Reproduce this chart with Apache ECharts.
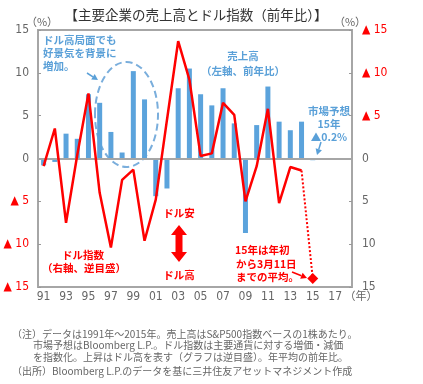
<!DOCTYPE html>
<html><head><meta charset="utf-8">
<script src="https://cdn.jsdelivr.net/npm/echarts@6/dist/echarts.min.js"></script>
<style>html,body{margin:0;padding:0;background:#fff}#c{width:423px;height:384px}</style>
</head><body><div id="c"></div>
<script>
const years = ['91','92','93','94','95','96','97','98','99','00','01','02','03','04','05','06','07','08','09','10','11','12','13','14','15','16','17','18'];
const sales = [-0.8,-0.4,2.9,2.3,7.5,6.5,3.1,0.7,10.2,6.9,-4.4,-3.5,8.2,10.5,7.5,6.2,8.2,4.1,-8.7,3.9,8.4,4.3,3.3,4.3,-0.2,null,null,null];
const dollar = [0.9,-3.5,7.5,-0.4,-7.6,4.0,10.4,2.5,1.3,9.6,4.8,-4.5,-13.7,-9.2,-0.3,-0.6,-6.5,-5.1,5.0,0.9,-5.8,5.2,1.0,1.4,null,null,null,null];
const dollar15 = 14.0;
const yTicks = [-15,-10,-5,0,5,10,15];

const FONT = '"Noto Sans CJK JP", "Noto Sans", sans-serif';
const NUMFONT = '"Liberation Sans Narrow", "DejaVu Sans Condensed", "Liberation Sans", sans-serif';
const BLUE = '#5aa0d8', RED = '#ff0000', GRAY = '#666';

const dotted = dollar.map(() => null);
dotted[23] = {value: dollar[23], symbol: 'none'};
dotted[24] = {value: dollar15, symbol: 'diamond', symbolSize: 11};

function lab(v){ return v < 0 ? '{r|▲ ' + (-v) + '}' : '{g|' + v + '}'; }
const rich = { r:{color:RED, fontSize:12, fontFamily:NUMFONT}, g:{color:GRAY, fontSize:12, fontFamily:NUMFONT} };

function arrow(x1,y1,x2,y2,color,lw,hs){
  const a = Math.atan2(y2-y1,x2-x1);
  const bx = x2 - hs*Math.cos(a), by = y2 - hs*Math.sin(a);
  const px = -Math.sin(a)*hs*0.55, py = Math.cos(a)*hs*0.55;
  return [
    {type:'line', shape:{x1:x1,y1:y1,x2:bx,y2:by}, style:{stroke:color,lineWidth:lw}},
    {type:'polygon', shape:{points:[[x2,y2],[bx+px,by+py],[bx-px,by-py]]}, style:{fill:color}}
  ];
}
function txt(x,y,t,o){ return {type:'text', x:x, y:y, style:Object.assign({text:t, fontFamily:FONT, fontSize:10, fill:GRAY, textVerticalAlign:'middle', verticalAlign:'middle'}, o||{})}; }

const chart = echarts.init(document.getElementById('c'), null, {renderer:'canvas'});
chart.setOption({
  animation:false,
  grid:{left:38, right:71, top:30, bottom:97, show:true, borderColor:'#a6a6a6', borderWidth:2, backgroundColor:'transparent'},
  xAxis:{type:'category', data:years, boundaryGap:true,
    axisLine:{show:false}, axisTick:{show:false},
    axisLabel:{interval:1, color:GRAY, fontSize:12, fontFamily:NUMFONT, margin:4}},
  yAxis:[
    {type:'value', min:-15, max:15, interval:5, position:'left', splitLine:{show:false},
      axisLine:{show:false}, axisTick:{show:true, inside:true, length:3, lineStyle:{color:'#999'}},
      axisLabel:{margin:9, formatter:lab, rich:rich}},
    {type:'value', min:-15, max:15, interval:5, inverse:true, position:'right', splitLine:{show:false},
      axisLine:{show:false}, axisTick:{show:true, inside:true, length:3, lineStyle:{color:'#999'}},
      axisLabel:{margin:10, formatter:lab, rich:rich}}
  ],
  series:[
    {type:'bar', data:sales, yAxisIndex:0, barWidth:5, itemStyle:{color:'#5ba3dc'},
      markLine:{silent:true, symbol:'none', label:{show:false}, lineStyle:{color:'#a6a6a6', width:2, type:'solid'}, data:[{yAxis:0}]}},
    {type:'line', data:dollar, yAxisIndex:1, symbol:'none', lineStyle:{color:RED, width:2.5}, itemStyle:{color:RED}, z:5},
    {type:'line', data:dotted, yAxisIndex:1, symbol:'diamond', showAllSymbol:true, connectNulls:false,
      lineStyle:{color:RED, width:2, type:'dotted'}, itemStyle:{color:RED}, z:5}
  ],
  graphic:[].concat(
    [
      txt(196,15,'【主要企業の売上高とドル指数（前年比）】',{fontSize:13.5, fill:'#333', textAlign:'center', align:'center'}),
      txt(42,22,'（%）',{fontSize:11, fill:GRAY, textAlign:'center', align:'center'}),
      txt(350,22,'（%）',{fontSize:11, fill:GRAY, textAlign:'center', align:'center'}),
      txt(361,296,'（年）',{fontSize:11, fill:GRAY, textAlign:'center', align:'center'}),
      {type:'ellipse', shape:{cx:126.5, cy:114.5, rx:31.5, ry:52.5}, style:{fill:'none', stroke:'#7aaedc', lineWidth:2, lineDash:[7,4]}},
      txt(43,40,'ドル高局面でも',{fontSize:10.5, fontWeight:'bold', fill:BLUE}),
      txt(43,53,'好景気を背景に',{fontSize:10.5, fontWeight:'bold', fill:BLUE}),
      txt(43,66,'増加。',{fontSize:10.5, fontWeight:'bold', fill:BLUE}),
      txt(243,56,'売上高',{fontSize:10.5, fontWeight:'bold', fill:BLUE, textAlign:'center', align:'center'}),
      txt(243,71,'（左軸、前年比）',{fontSize:10.5, fontWeight:'bold', fill:BLUE, textAlign:'center', align:'center'}),
      txt(329,111,'市場予想',{fontSize:10.5, fontWeight:'bold', fill:BLUE, textAlign:'center', align:'center'}),
      txt(329,124,'15年',{fontSize:10.5, fontWeight:'bold', fill:BLUE, textAlign:'center', align:'center'}),
      txt(329,137,'▲0.2%',{fontSize:10.5, fontWeight:'bold', fill:BLUE, textAlign:'center', align:'center'}),
      txt(83,255,'ドル指数',{fontSize:10.5, fontWeight:'bold', fill:RED, textAlign:'center', align:'center'}),
      txt(84,268,'（右軸、逆目盛）',{fontSize:10.5, fontWeight:'bold', fill:RED, textAlign:'center', align:'center'}),
      txt(179,213,'ドル安',{fontSize:10.5, fontWeight:'bold', fill:RED, textAlign:'center', align:'center'}),
      txt(179,275,'ドル高',{fontSize:10.5, fontWeight:'bold', fill:RED, textAlign:'center', align:'center'}),
      {type:'polygon', shape:{points:[[179,225],[187,235],[182.5,235],[182.5,252],[187,252],[179,262],[171,252],[175.5,252],[175.5,235],[171,235]]}, style:{fill:RED}},
      txt(235,250,'15年は年初',{fontSize:10.5, fontWeight:'bold', fill:RED}),
      txt(236,264,'から3月11日',{fontSize:10.5, fontWeight:'bold', fill:RED}),
      txt(236,277,'までの平均。',{fontSize:10.5, fontWeight:'bold', fill:RED}),
      txt(12,334,'（注）データは1991年～2015年。売上高はS&P500指数ベースの1株あたり。',{fontSize:10}),
      txt(33,345,'市場予想はBloomberg L.P.。ドル指数は主要通貨に対する増価・減価',{fontSize:10}),
      txt(33,357,'を指数化。上昇はドル高を表す（グラフは逆目盛）。年平均の前年比。',{fontSize:10}),
      txt(12,371,'（出所）Bloomberg L.P.のデータを基に三井住友アセットマネジメント作成',{fontSize:10})
    ],
    arrow(87,73,98,80,BLUE,1.5,6),
    arrow(321,142,317,155,BLUE,1.5,6),
    arrow(292,272,307,278,RED,1.5,6)
  )
});
</script></body></html>
